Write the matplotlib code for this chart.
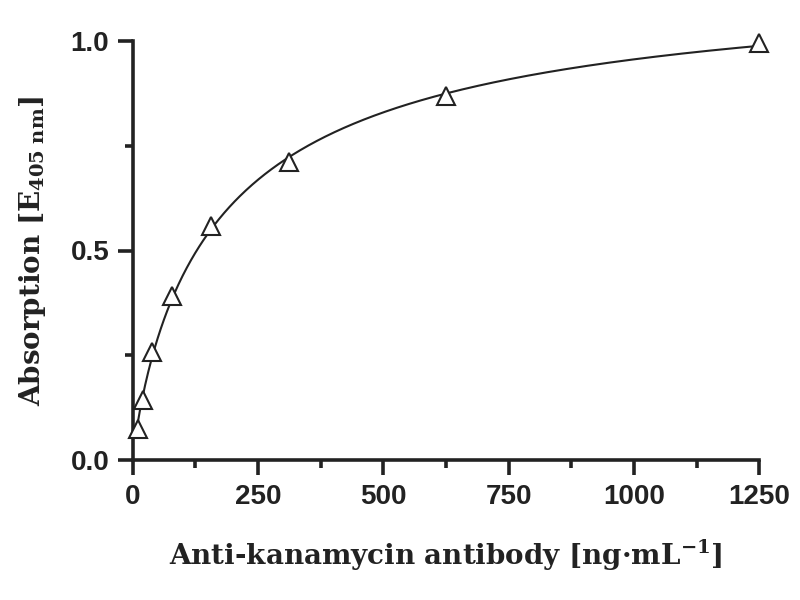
import numpy as np
import matplotlib
matplotlib.use("Agg")
import matplotlib.pyplot as plt
from matplotlib.ticker import MultipleLocator, FormatStrFormatter

# antibody dilution series (ng/mL) and absorption
conc = [9.77, 19.53, 39.06, 78.13, 156.25, 312.5, 625.0, 1250.0]
absorb = [0.074, 0.143, 0.258, 0.391, 0.558, 0.711, 0.869, 0.995]

x = np.array(conc)
y = np.array(absorb)

# saturation fit (Hill form), small grid search, Bmax solved linearly
best = None
for K in np.linspace(100, 400, 301):
    for h in np.linspace(0.5, 1.2, 141):
        f = x ** h / (K ** h + x ** h)
        bmax = (y * f).sum() / (f * f).sum()
        err = ((bmax * f - y) ** 2).sum()
        if best is None or err < best[0]:
            best = (err, K, h, bmax)
_, K, h, bmax = best

xf = np.linspace(6, 1250, 600)
yf = bmax * xf ** h / (K ** h + xf ** h)

plt.rcParams["mathtext.fontset"] = "custom"
plt.rcParams["mathtext.rm"] = "DejaVu Serif:bold"
plt.rcParams["mathtext.bf"] = "DejaVu Serif:bold"
plt.rcParams["mathtext.it"] = "DejaVu Serif:bold"

INK = "#222222"

fig = plt.figure(figsize=(8, 6), dpi=100)
ax = fig.add_axes([0.166, 0.233, 0.783, 0.699])

ax.plot(xf, yf, color=INK, lw=1.5, zorder=2)
ax.plot(x, y, ls="none", marker="^", ms=13, mfc="white", mec=INK,
        mew=1.5, clip_on=False, zorder=3)

ax.set_xlim(0, 1250)
ax.set_ylim(0, 1.0)
ax.xaxis.set_major_locator(MultipleLocator(250))
ax.xaxis.set_minor_locator(MultipleLocator(125))
ax.yaxis.set_major_locator(MultipleLocator(0.5))
ax.yaxis.set_minor_locator(MultipleLocator(0.25))
ax.yaxis.set_major_formatter(FormatStrFormatter("%.1f"))

for s in ("top", "right"):
    ax.spines[s].set_visible(False)
for s in ("left", "bottom"):
    ax.spines[s].set_linewidth(2.6)
    ax.spines[s].set_color(INK)
ax.tick_params(which="major", direction="out", length=11, width=2.6,
               color=INK, pad=6)
ax.tick_params(which="minor", direction="out", length=6, width=2.6, color=INK)
for lab in ax.get_xticklabels() + ax.get_yticklabels():
    lab.set_fontfamily("Liberation Sans")
    lab.set_fontweight("bold")
    lab.set_fontsize(20)
    lab.set_color(INK)

ax.set_xlabel("Anti-kanamycin antibody [ng·mL$^{-1}$]", family="DejaVu Serif",
              fontweight="bold", fontsize=20, labelpad=20, color=INK)
ax.set_ylabel(r"Absorption [E$_{405\ \mathrm{nm}}$]", family="DejaVu Serif",
              fontweight="bold", fontsize=20, labelpad=16, color=INK)

fig.savefig("out.png", dpi=100)
